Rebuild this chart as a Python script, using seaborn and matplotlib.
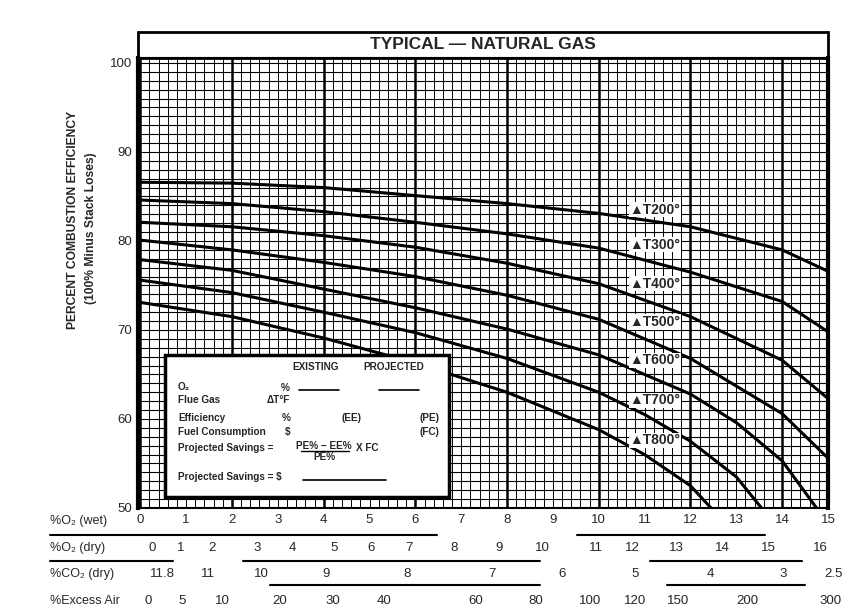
import numpy as np
import pandas as pd
import matplotlib
matplotlib.use('Agg')
import matplotlib.pyplot as plt
import seaborn as sns
from matplotlib.patches import Rectangle

# efficiency curves: x = %O2 (wet), y = % combustion efficiency
curve_names = ['T200', 'T300', 'T400', 'T500', 'T600', 'T700', 'T800']
o2_200 = [0, 2, 4, 6, 8, 10, 12, 14, 15]
eff_200 = [86.6, 86.5, 86.0, 85.1, 84.2, 83.1, 81.6, 79.0, 76.6]
o2_300 = [0, 2, 4, 6, 8, 10, 12, 14, 15]
eff_300 = [84.6, 84.2, 83.3, 82.1, 80.8, 79.2, 76.5, 73.2, 69.8]
o2_400 = [0, 2, 4, 6, 8, 10, 12, 14, 15]
eff_400 = [82.1, 81.6, 80.6, 79.3, 77.5, 75.2, 71.5, 66.6, 62.3]
o2_500 = [0, 2, 4, 6, 8, 10, 12, 14, 15]
eff_500 = [80.1, 79.0, 77.6, 76.0, 73.9, 71.2, 66.8, 60.6, 55.6]
o2_600 = [0, 2, 4, 6, 8, 10, 12, 13, 14, 14.75]
eff_600 = [77.9, 76.7, 74.6, 72.5, 70.1, 67.2, 62.8, 59.6, 55.3, 50.0]
o2_700 = [0, 2, 4, 6, 8, 10, 11, 12, 13, 13.55]
eff_700 = [75.6, 74.2, 72.0, 69.7, 66.8, 63.0, 60.5, 57.5, 53.5, 50.0]
o2_800 = [0, 2, 4, 6, 8, 10, 11, 12, 12.45]
eff_800 = [73.1, 71.5, 69.1, 66.3, 63.0, 58.8, 56.0, 52.5, 50.0]
label_eff = [83.5, 79.6, 75.2, 70.9, 66.6, 62.1, 57.6]

# bottom scales: printed value and the %O2 (wet) it lines up with
o2_wet = list(range(16))
o2_dry = [0, 1, 2, 3, 4, 5, 6, 7, 8, 9, 10, 11, 12, 13, 14, 15, 16]
o2_dry_at = [0.25, 0.88, 1.56, 2.54, 3.32, 4.23, 5.04, 5.86, 6.84, 7.82,
             8.77, 9.93, 10.73, 11.69, 12.69, 13.69, 14.84]
co2_dry = ['11.8', '11', '10', '9', '8', '7', '6', '5', '4', '3', '2.5']
co2_dry_at = [0.49, 1.47, 2.65, 4.06, 5.82, 7.67, 9.19, 10.80, 12.43, 14.02, 15.11]
excess_air = [0, 5, 10, 20, 30, 40, 60, 80, 100, 120, 150, 200, 300]
excess_air_at = [0.17, 0.91, 1.78, 3.04, 4.19, 5.32, 7.32, 8.62, 9.82, 10.80,
                 11.73, 13.25, 15.06]

frames = []
for name, xs, ys in zip(curve_names,
                        [o2_200, o2_300, o2_400, o2_500, o2_600, o2_700, o2_800],
                        [eff_200, eff_300, eff_400, eff_500, eff_600, eff_700, eff_800]):
    frames.append(pd.DataFrame({'o2': xs, 'eff': ys, 'curve': name}))
df = pd.concat(frames, ignore_index=True)

sns.set_style('white')
plt.rcParams['font.family'] = ['Liberation Sans', 'DejaVu Sans']

fig = plt.figure(figsize=(8.52, 6.16), dpi=100)
ax = fig.add_axes([138 / 852, 1 - 508 / 616, 690 / 852, 450 / 616])
ax.set_xlim(-0.05, 14.95)
ax.set_ylim(50, 100.56)

# chart paper grid
ax.vlines(np.arange(0, 14.95, 0.2), 50, 100.56, color='black', lw=0.7, zorder=1)
ax.vlines(np.arange(0, 14.95, 2), 50, 100.56, color='black', lw=1.8, zorder=1)
ax.hlines(np.arange(51, 100.5, 1), -0.05, 14.95, color='black', lw=0.8, zorder=1)

sns.lineplot(data=df, x='o2', y='eff', units='curve', estimator=None,
             color='black', linewidth=2.2, ax=ax, zorder=3)

for name, ye in zip(curve_names, label_eff):
    ax.text(10.67, ye, '\u25b2' + name + '\u00b0', fontsize=10, fontweight='bold',
            va='center', ha='left', zorder=4,
            bbox=dict(fc='white', ec='none', pad=0.4))

for side, w in [('left', 3), ('right', 3), ('bottom', 1.5), ('top', 1.5)]:
    ax.spines[side].set_linewidth(w)
    ax.spines[side].set_color('black')

ax.set_yticks([50, 60, 70, 80, 90, 100])
ax.set_xticks(o2_wet)
ax.set_xticklabels([str(v) for v in o2_wet])
ax.tick_params(axis='both', length=0, labelsize=9.5)
ax.tick_params(axis='y', pad=4)
ax.tick_params(axis='x', pad=4)
ax.set_xlabel('')
ax.set_ylabel('')

# title band
ax.add_patch(Rectangle((0, 1.0), 1, 0.058, transform=ax.transAxes, fill=False,
                       ec='black', lw=2, clip_on=False))
ax.text(0.5, 1.029, 'TYPICAL \u2014 NATURAL GAS', transform=ax.transAxes,
        ha='center', va='center', fontsize=12.5, fontweight='bold')

fig.text(73 / 852, 1 - 220 / 616, 'PERCENT COMBUSTION EFFICIENCY', rotation=90,
         ha='center', va='center', fontsize=8.7, fontweight='bold')
fig.text(91 / 852, 1 - 228 / 616, '(100% Minus Stack Loses)', rotation=90,
         ha='center', va='center', fontsize=8.7, fontweight='bold')

# worksheet box
ax.add_patch(Rectangle((0.54, 51.24), 6.19, 15.96, fc='white', ec='black',
                       lw=2.5, zorder=5))
kw = dict(fontsize=7.2, fontweight='bold', zorder=6, va='center')
ax.text(3.83, 65.84, 'EXISTING', ha='center', **kw)
ax.text(5.53, 65.84, 'PROJECTED', ha='center', **kw)
ax.text(0.82, 63.6, 'O\u2082', ha='left', **kw)
ax.text(3.15, 63.5, '%', ha='center', **kw)
ax.plot([3.47, 4.34], [63.3, 63.3], color='black', lw=1.2, zorder=6)
ax.plot([5.21, 6.08], [63.3, 63.3], color='black', lw=1.2, zorder=6)
ax.text(0.82, 62.13, 'Flue Gas', ha='left', **kw)
ax.text(3.0, 62.13, '\u0394T\u00b0F', ha='center', **kw)
ax.text(0.82, 60.1, 'Efficiency', ha='left', **kw)
ax.text(3.19, 60.1, '%', ha='center', **kw)
ax.text(4.6, 60.1, '(EE)', ha='center', **kw)
ax.text(6.3, 60.1, '(PE)', ha='center', **kw)
ax.text(0.82, 58.54, 'Fuel Consumption', ha='left', **kw)
ax.text(3.21, 58.54, '$', ha='center', **kw)
ax.text(6.3, 58.54, '(FC)', ha='center', **kw)
ax.text(0.82, 56.74, 'Projected Savings =', ha='left', **kw)
ax.text(4.01, 57.0, 'PE% \u2212 EE%', ha='center', **kw)
ax.plot([3.5, 4.55], [56.45, 56.45], color='black', lw=1, zorder=6)
ax.text(4.01, 55.7, 'PE%', ha='center', **kw)
ax.text(4.95, 56.74, 'X FC', ha='center', **kw)
ax.text(0.82, 53.48, 'Projected Savings = $', ha='left', **kw)
ax.plot([3.54, 5.37], [53.15, 53.15], color='black', lw=1.2, zorder=6)

# conversion scales under the chart
tr = ax.get_xaxis_transform()
for vals, pos, yrow in [(o2_dry, o2_dry_at, -0.089),
                        (co2_dry, co2_dry_at, -0.147),
                        (excess_air, excess_air_at, -0.207)]:
    for v, p in zip(vals, pos):
        ax.text(p, yrow, str(v), transform=tr, ha='center', va='center',
                fontsize=9.5, clip_on=False)

row_names = ['%O\u2082 (wet)', '%O\u2082 (dry)', '%CO\u2082 (dry)', '%Excess Air']
for name, py in zip(row_names, [521, 548, 574, 601]):
    fig.text(50 / 852, 1 - py / 616, name, ha='left', va='center', fontsize=9)

for py, segs in [(535, [(50, 437), (577, 765)]),
                 (561, [(50, 173), (243, 540), (650, 802)]),
                 (585, [(270, 540), (667, 805)])]:
    for x0, x1 in segs:
        fig.add_artist(plt.Line2D([x0 / 852, x1 / 852], [1 - py / 616] * 2,
                                  color='black', lw=1.5))

fig.savefig('out.png', dpi=100)
